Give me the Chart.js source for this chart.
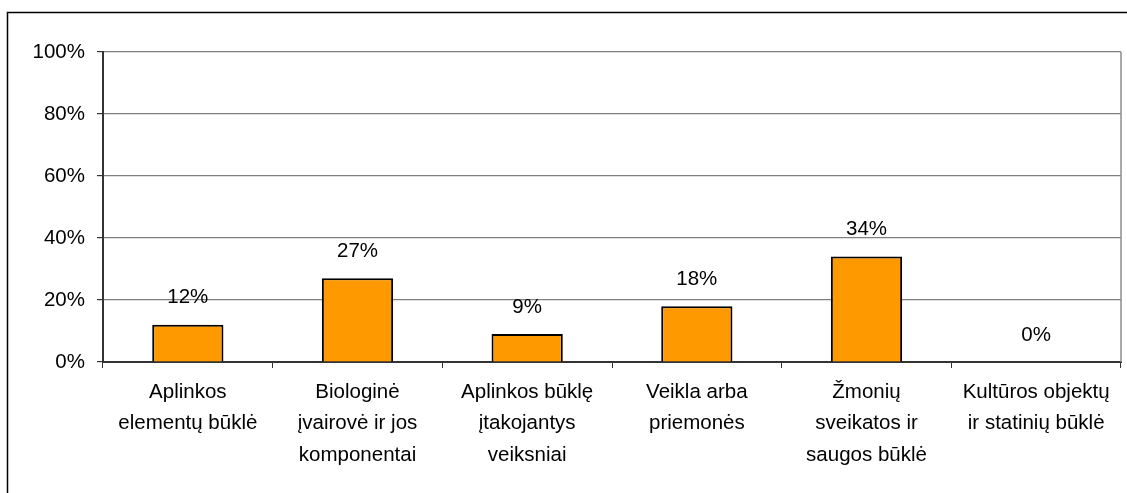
<!DOCTYPE html>
<html>
<head>
<meta charset="utf-8">
<script src="https://cdn.jsdelivr.net/npm/chart.js@4"></script>
<style>
    html, body { margin: 0; padding: 0; background: #ffffff; }
    #wrap { width: 1127px; height: 493px; }
</style>
</head>
<body>
<div id="wrap"><canvas id="barChart" width="1127" height="493"></canvas></div>
<script>

/* ==========================================
        DATA
========================================== */

const categories = [
    ["Aplinkos", "elementų būklė"],
    ["Biologinė", "įvairovė ir jos", "komponentai"],
    ["Aplinkos būklę", "įtakojantys", "veiksniai"],
    ["Veikla arba", "priemonės"],
    ["Žmonių", "sveikatos ir", "saugos būklė"],
    ["Kultūros objektų", "ir statinių būklė"]
];

const shares = [12, 27, 9, 18, 34, 0];

const yTicks = [0, 20, 40, 60, 80, 100];

const FONT = "'Liberation Sans', Arial, sans-serif";

/* ==========================================
        PLUGINS
========================================== */

// outer frame (only top + left visible in the picture)
const framePlugin = {
    id: "frame",
    beforeDraw(chart) {
        const c = chart.ctx;
        c.save();
        c.strokeStyle = "#000000";
        c.lineWidth = 1.5;
        c.beginPath();
        c.moveTo(7.5, chart.height + 2);
        c.lineTo(7.5, 12.5);
        c.lineTo(chart.width + 2, 12.5);
        c.stroke();
        c.restore();
    },
    afterDraw(chart) {
        const a = chart.chartArea;
        const c = chart.ctx;
        c.save();
        c.strokeStyle = "#8c8c8c";
        c.lineWidth = 1.5;
        c.beginPath();
        c.moveTo(a.right, a.top);
        c.lineTo(a.right, a.bottom);
        c.stroke();
        c.restore();
    }
};

// value labels above bars
const valueLabels = {
    id: "valueLabels",
    afterDatasetsDraw(chart) {
        const c = chart.ctx;
        const meta = chart.getDatasetMeta(0);
        c.save();
        c.fillStyle = "#000000";
        c.font = "20.5px " + FONT;
        c.textAlign = "center";
        c.textBaseline = "middle";
        meta.data.forEach((bar, i) => {
            c.fillText(shares[i] + "%", bar.x, bar.y - 27);
        });
        c.restore();
    }
};

/* ==========================================
        CHART
========================================== */

const ctx = document.getElementById("barChart").getContext("2d");

new Chart(ctx, {

    type: "bar",

    data: {
        labels: categories,
        datasets: [{
            data: shares,
            backgroundColor: "#ff9900",
            borderColor: "#000000",
            borderWidth: 2,
            barPercentage: 0.42,
            categoryPercentage: 1
        }]
    },

    options: {
        responsive: false,
        animation: false,
        layout: {
            padding: { top: 52, right: 6, bottom: 0, left: 0 }
        },
        plugins: {
            legend: { display: false },
            tooltip: { enabled: false }
        },
        scales: {
            x: {
                offset: true,
                grid: {
                    offset: true,
                    drawOnChartArea: false,
                    drawTicks: true,
                    tickLength: 6,
                    tickColor: "#333333"
                },
                border: { color: "#333333", width: 2 },
                ticks: {
                    color: "#000000",
                    padding: 9,
                    maxRotation: 0,
                    autoSkip: false,
                    font: { family: FONT, size: 20.5, lineHeight: 1.52 }
                },
                afterFit(scale) {
                    scale.height = 131;
                }
            },
            y: {
                min: 0,
                max: 100,
                afterBuildTicks(scale) {
                    scale.ticks = yTicks.map(v => ({ value: v }));
                },
                grid: {
                    color: "#808080",
                    lineWidth: 1.2,
                    tickLength: 6,
                    tickColor: "#333333"
                },
                border: { color: "#333333", width: 2 },
                ticks: {
                    color: "#000000",
                    padding: 12,
                    font: { family: FONT, size: 20.5 },
                    callback: v => v + "%"
                },
                afterFit(scale) {
                    scale.width = 103;
                }
            }
        }
    },

    plugins: [framePlugin, valueLabels]

});

</script>
</body>
</html>
